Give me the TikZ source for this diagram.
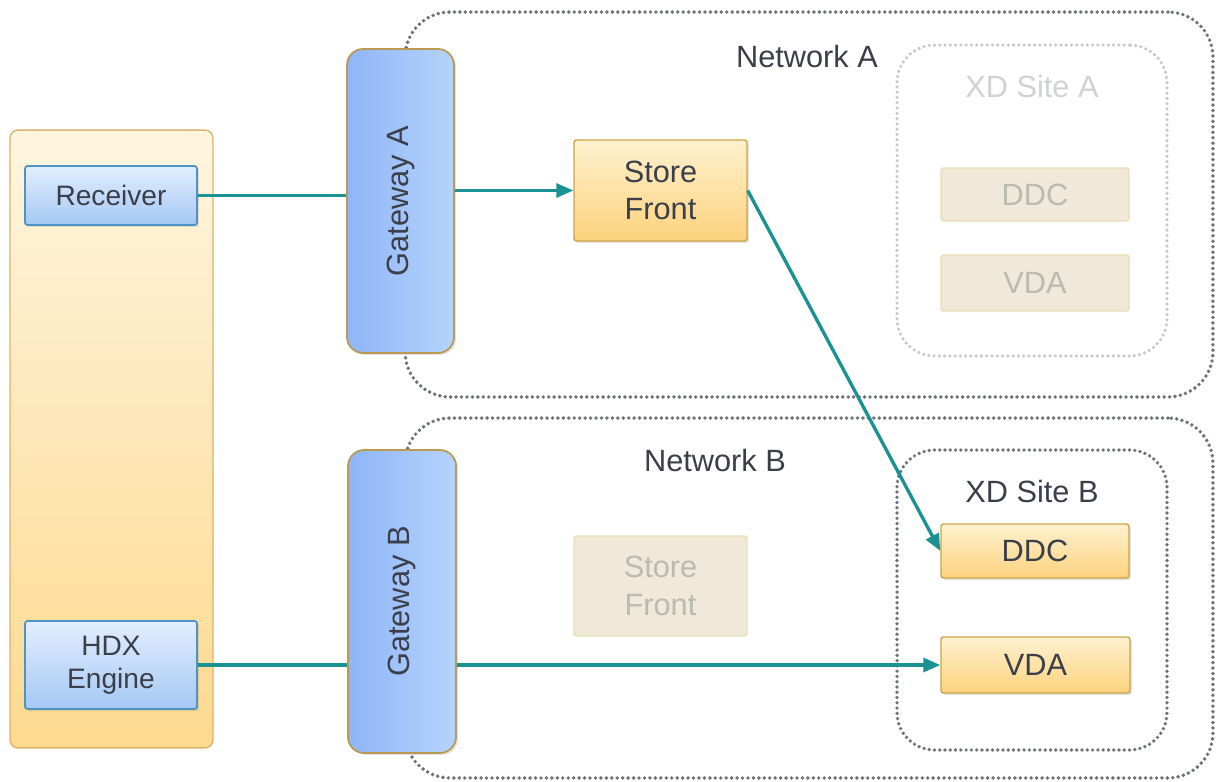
\documentclass[tikz,border=0pt]{standalone}
\usepackage{fontspec}
\setmainfont{Liberation Sans}
\usetikzlibrary{arrows.meta,shadows}
\definecolor{txt}{HTML}{3A3F4A}
\definecolor{teal}{HTML}{1A9294}
\definecolor{dotc}{HTML}{6E727A}
\definecolor{dotl}{HTML}{C4C8CD}
\definecolor{panBd}{HTML}{D9B46A}
\definecolor{panTop}{HTML}{FFF5E0}
\definecolor{panBot}{HTML}{FDD98E}
\definecolor{blueBd}{HTML}{4F93C4}
\definecolor{blueTop}{HTML}{E2EEFF}
\definecolor{blueBot}{HTML}{A5C8F3}
\definecolor{gateBd}{HTML}{B89A52}
\definecolor{gateL}{HTML}{8EB5F7}
\definecolor{gateR}{HTML}{B6D3FC}
\definecolor{yBd}{HTML}{CDA446}
\definecolor{yTop}{HTML}{FFF1CF}
\definecolor{yBot}{HTML}{FCD27D}
\definecolor{fBd}{HTML}{EBDDB2}
\definecolor{fFill}{HTML}{F0E8D9}
\definecolor{fTxt}{HTML}{BDB8B0}
\definecolor{lblF}{HTML}{D0D1D4}
\tikzset{
  px/.style={x=0.02cm,y=-0.02cm},
  shad/.style={drop shadow={opacity=0.22,shadow xshift=0.04cm,shadow yshift=-0.04cm}},
  panel/.style={draw=panBd, line width=0.8pt, rounded corners=0.16cm, top color=panTop, bottom color=panBot, inner sep=0pt},
  bluebox/.style={draw=blueBd, line width=1pt, rounded corners=0.05cm, top color=blueTop, bottom color=blueBot, inner sep=0pt, align=center, text=txt, font=\fontsize{16}{19}\selectfont, shad},
  gatebox/.style={draw=gateBd, line width=1pt, rounded corners=0.32cm, left color=gateL, right color=gateR, inner sep=0pt, text=txt, font=\fontsize{17.5}{20}\selectfont, shad},
  ybox/.style={draw=yBd, line width=0.8pt, rounded corners=0.05cm, top color=yTop, bottom color=yBot, inner sep=0pt, align=center, text=txt, font=\fontsize{17.5}{21.5}\selectfont, shad},
  fbox/.style={draw=fBd, line width=0.8pt, rounded corners=0.05cm, fill=fFill, inner sep=0pt, align=center, text=fTxt, font=\fontsize{17.5}{21.5}\selectfont},
  netbox/.style={draw=dotc, line width=2.2pt, line cap=round, dash pattern=on 0pt off 3.1pt, rounded corners=0.9cm, inner sep=0pt},
  sitebox/.style={draw=dotc, line width=2.1pt, line cap=round, dash pattern=on 0pt off 3pt, rounded corners=0.75cm, inner sep=0pt},
  sitefaded/.style={draw=dotl, line width=2pt, line cap=round, dash pattern=on 0pt off 3pt, rounded corners=0.75cm, inner sep=0pt},
  lbl/.style={text=txt, font=\fontsize{17.5}{20}\selectfont, inner sep=0pt},
  lblf/.style={text=lblF, font=\fontsize{17.5}{20}\selectfont, inner sep=0pt},
  conn/.style={draw=teal, line width=1.9pt},
  arr/.style={conn, -{Triangle[length=0.34cm,width=0.28cm]}}
}
\begin{document}
\begin{tikzpicture}[px]
\useasboundingbox (0,0) rectangle (1219,781);
% networks
\node[netbox, minimum width=16.16cm, minimum height=7.7cm] (neta) at (809,204.5) {};
\node[netbox, minimum width=16.16cm, minimum height=7.2cm] (netb) at (809,598) {};
\node[lbl] (netal) at (807,57) {Network A};
\node[lbl] (netbl) at (715,461) {Network B};
% sites
\node[sitefaded, minimum width=5.4cm, minimum height=6.22cm] (sitea) at (1032,200.5) {};
\node[sitebox, minimum width=5.4cm, minimum height=6.0cm] (siteb) at (1032,600) {};
\node[lblf] (siteal) at (1032,87) {XD Site A};
\node[lbl] (sitebl) at (1032,492) {XD Site B};
% faded boxes
\node[fbox, minimum width=3.76cm, minimum height=1.06cm] (ddca) at (1035,194.5) {DDC};
\node[fbox, minimum width=3.76cm, minimum height=1.12cm] (vdaa) at (1035,283) {VDA};
\node[fbox, minimum width=3.46cm, minimum height=2.0cm] (sfb) at (660.5,586) {Store\\Front};
% left panel
\node[panel, minimum width=4.06cm, minimum height=12.36cm] (client) at (111.5,439) {};
\node[bluebox, minimum width=3.44cm, minimum height=1.18cm] (rec) at (111,195.5) {Receiver};
\node[bluebox, minimum width=3.44cm, minimum height=1.76cm] (hdx) at (111,665) {HDX\\Engine};
% gateways
\node[gatebox, minimum width=2.14cm, minimum height=6.08cm] (gwa) at (400.5,201) {\rotatebox{90}{Gateway A}};
\node[gatebox, minimum width=2.16cm, minimum height=6.06cm] (gwb) at (402,601.5) {\rotatebox{90}{Gateway B}};
% active boxes
\node[ybox, minimum width=3.46cm, minimum height=2.02cm] (sf) at (660.5,190.5) {Store\\Front};
\node[ybox, minimum width=3.76cm, minimum height=1.08cm] (ddcb) at (1035,551) {DDC};
\node[ybox, minimum width=3.78cm, minimum height=1.12cm] (vdab) at (1035.5,665) {VDA};
% connectors
\draw[conn] (rec.east) -- (gwa.west |- rec.east);
\draw[arr] (gwa.east |- sf.west) -- (sf.west);
\draw[arr] (sf.east) -- (ddcb.west);
\draw[conn] (hdx.east) -- (gwb.west |- hdx.east);
\draw[arr] (gwb.east |- vdab.west) -- (vdab.west);
\end{tikzpicture}
\end{document}
